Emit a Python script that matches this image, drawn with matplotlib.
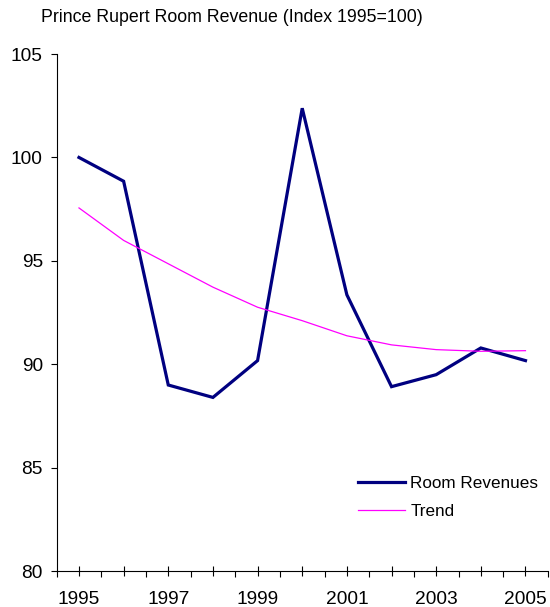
import matplotlib
matplotlib.use("Agg")
import matplotlib.pyplot as plt
from matplotlib.ticker import MultipleLocator, FixedLocator

plt.rcParams['font.family'] = ['Liberation Sans', 'DejaVu Sans']

years = [1995, 1996, 1997, 1998, 1999, 2000, 2001, 2002, 2003, 2004, 2005]
room_revenues = [100.0, 98.85, 89.0, 88.4, 90.18, 102.38, 93.36, 88.92, 89.5, 90.79, 90.18]
trend = [97.56, 95.99, 94.86, 93.73, 92.76, 92.11, 91.38, 90.94, 90.71, 90.63, 90.66]
year_labels = ['1995', '', '1997', '', '1999', '', '2001', '', '2003', '', '2005']

title = 'Prince Rupert Room Revenue (Index 1995=100)'

fig = plt.figure(figsize=(5.5, 6.07), dpi=100)
ax = fig.add_axes([0.103, 0.059, 0.893, 0.852])

ax.plot(years, room_revenues, color='#000080', lw=2.3, label='Room Revenues',
        solid_joinstyle='miter')
ax.plot(years, trend, color='#FF00FF', lw=0.9, label='Trend')

ax.set_xlim(1994.5, 2005.5)
ax.set_ylim(80, 105)
ax.yaxis.set_major_locator(MultipleLocator(5))
ax.xaxis.set_major_locator(FixedLocator(years))
ax.xaxis.set_minor_locator(FixedLocator([y + 0.5 for y in [1994] + years]))
ax.set_xticklabels(year_labels)

for s in ['top', 'right']:
    ax.spines[s].set_visible(False)
for s in ['left', 'bottom']:
    ax.spines[s].set_linewidth(0.8)
    ax.spines[s].set_color('#000000')

ax.tick_params(axis='x', which='major', direction='inout', length=7, width=0.8,
               labelsize=13.8, pad=11)
ax.tick_params(axis='x', which='minor', direction='out', length=4, width=0.8)
ax.tick_params(axis='y', which='major', direction='out', length=4, width=0.8,
               labelsize=13.8, pad=6)

fig.text(0.074, 0.971, title, fontsize=12.8, va='center', ha='left')

ax.legend(loc='upper left', bbox_to_anchor=(0.650, 0.216), bbox_transform=fig.transFigure,
          frameon=False, fontsize=12.3, handlelength=2.8, handletextpad=0.3,
          labelspacing=0.75, borderpad=0, borderaxespad=0)

fig.savefig('out.png', dpi=100)
